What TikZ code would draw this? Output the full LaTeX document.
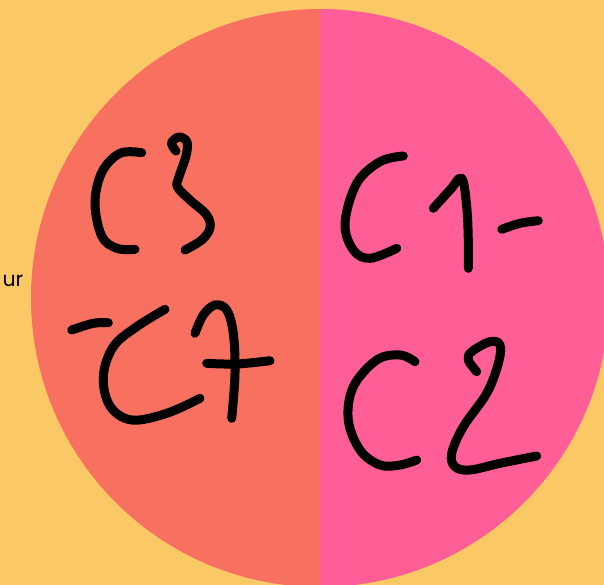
\documentclass[tikz,border=0pt]{standalone}
\usepackage{fontspec}
\setmainfont{Poppins}
\definecolor{bg}{HTML}{FAC966}
\definecolor{coral}{HTML}{F87060}
\definecolor{pinkish}{HTML}{FF5E96}
\begin{document}
\begin{tikzpicture}[x=1pt,y=-1pt,
  ink/.style={line width=9pt,line cap=round,line join=round,black}]
\useasboundingbox (0,0) rectangle (604,585);
\clip (0,0) rectangle (604,585);
\fill[bg] (0,0) rectangle (604,585);
\coordinate (c) at (320,298);
\begin{scope}
  \clip (0,0) rectangle (320,585);
  \fill[coral] (c) circle (289pt);
\end{scope}
\begin{scope}
  \clip (320,0) rectangle (604,585);
  \fill[pinkish] (c) circle (289pt);
\end{scope}
\node[anchor=base east, inner sep=0pt, font=\fontsize{20.5}{24}\selectfont] (lbl) at (23.5,286.5) {ur};
% C3
\draw[ink] plot[smooth,tension=0.6] coordinates {(141.7,152.7) (120,153.3) (102,172) (95,203) (101.7,236) (116.7,248.3) (135,249.3)};
\draw[ink] plot[smooth,tension=0.6] coordinates {(176,151) (171.5,143) (179,137) (187,142) (186,156) (179,176.7) (177.5,187) (190,200) (206.7,215) (210,228) (201.7,240) (185,250)};
% -C7
\draw[ink] plot[smooth,tension=0.6] coordinates {(71.7,330) (93.3,323.3) (108.3,322.7)};
\draw[ink] plot[smooth,tension=0.6] coordinates {(165,309.3) (136.7,326.7) (113.3,346.7) (103.3,376.7) (110,406) (131.7,420) (166.7,413.3) (200,398.3)};
\draw[ink] plot[smooth,tension=0.6] coordinates {(195,333.3) (203.3,315) (215,305) (226.7,310) (233.3,333.3) (235,373.3) (231.7,418.3)};
\draw[ink] plot[smooth,tension=0.6] coordinates {(206.7,363.3) (236.7,364) (270,360.7)};
% C1-
\draw[ink] plot[smooth,tension=0.6] coordinates {(403.3,156) (380,161.7) (356.7,183.3) (345,223.3) (353.3,250) (370,258.3) (396.7,248.3)};
\draw[ink] plot[smooth,tension=0.6] coordinates {(433.3,208.3) (450,190) (461.7,178.3) (466.7,206.7) (468.3,240) (468.3,268.3)};
\draw[ink] plot[smooth,tension=0.6] coordinates {(501.7,229.3) (520,223.3) (538.3,220.7)};
% C2
\draw[ink] plot[smooth,tension=0.6] coordinates {(415,361.7) (400,355) (376.7,360) (353.3,386.7) (348.3,420) (360,450) (380,465) (400,465) (416.7,460)};
\draw[ink] plot[smooth,tension=0.6] coordinates {(476.7,371.7) (468.3,360) (471.7,351.7) (490,341.7) (500,345) (498.3,363.3) (486.7,393.3) (463.3,426.7) (451.7,453.3) (455,466.7) (470,470) (500,463.3) (536.7,456)};
\end{tikzpicture}
\end{document}
